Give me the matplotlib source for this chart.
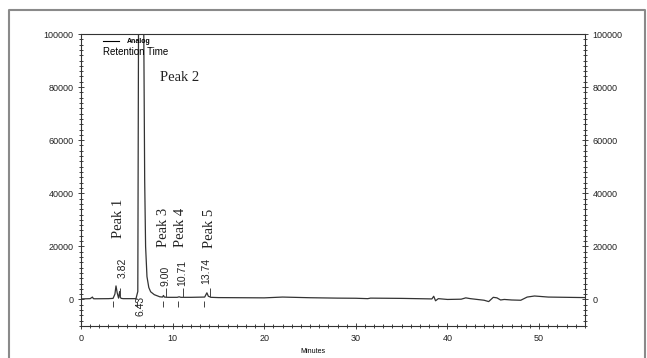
import matplotlib
matplotlib.use("Agg")
import matplotlib.pyplot as plt
from matplotlib.lines import Line2D
from matplotlib.ticker import MultipleLocator

# detector trace (minutes, signal)
time = [0.0, 1.0, 1.25, 1.35, 1.5, 3.0, 3.5, 3.7, 3.82, 3.95, 4.1, 4.22, 4.3, 4.4,
        4.6, 6.0, 6.2, 6.3, 6.43, 6.6, 6.8, 6.95, 7.05, 7.2, 7.4, 7.6, 8.0, 8.6,
        8.9, 9.0, 9.1, 9.5, 10.5, 10.71, 10.9, 12.0, 13.5, 13.74, 13.9, 14.2, 15.0,
        20.0, 22.0, 25.0, 28.0, 30.0, 31.3, 31.6, 35.0, 38.3, 38.5, 38.7, 39.0,
        40.0, 41.5, 42.0, 42.5, 44.0, 44.5, 45.0, 45.4, 45.8, 46.2, 47.0, 48.0,
        48.7, 49.5, 51.0, 55.0]
signal = [200, 300, 900, 300, 250, 300, 400, 2000, 5100, 2500, 500, 3000, 700, 400,
          300, 300, 3000, 130000, 130000, 130000, 130000, 45000, 20000, 8600, 4500,
          2900, 1800, 1000, 900, 1500, 900, 800, 800, 1000, 800, 800, 900, 2500,
          1200, 800, 700, 600, 900, 650, 500, 450, 300, 500, 400, 200, 1200, -500,
          300, 0, 100, 600, 300, -300, -800, 800, 600, -200, 0, -200, -300, 900,
          1300, 900, 700]

# integration marks: start of each peak below the trace, end above it
start_marks = [3.46, 6.09, 8.9, 10.56, 13.4]
end_marks = [4.3, 9.3, 11.08, 14.08]

rt_labels = ["3.82", "6.43", "9.00", "10.71", "13.74"]
rt_x = [4.5, 6.45, 9.26, 11.0, 13.7]
rt_y = [8000, -6300, 5000, 5000, 6000]

peak_names = ["Peak 1", "Peak 3", "Peak 4", "Peak 5"]
peak_x = [4.08, 9.0, 10.9, 14.0]
peak_y = [23000, 19800, 19800, 19400]

fig = plt.figure(figsize=(6.47, 3.58), dpi=100)
ax = fig.add_axes([0.1252, 0.0894, 0.7788, 0.8156])

ax.plot(time, signal, color="#333333", lw=0.9)
ax.vlines(start_marks, -3000, -400, color="#444444", lw=0.7)
ax.vlines(end_marks, 800, 4200, color="#444444", lw=0.7)

for lab, x, y in zip(rt_labels, rt_x, rt_y):
    ax.text(x, y, lab, rotation=90, ha="center", va="bottom", fontsize=7.5,
            family="Liberation Sans", color="#222222")
for lab, x, y in zip(peak_names, peak_x, peak_y):
    ax.text(x, y, lab, rotation=90, ha="center", va="bottom", fontsize=10.5,
            family="Liberation Serif", color="#222222")
ax.text(8.6, 83600, "Peak 2", ha="left", va="center", fontsize=10.5,
        family="Liberation Serif", color="#222222")

# legend block in the top-left corner
ax.add_line(Line2D([2.4, 4.2], [97300, 97300], color="black", lw=0.8))
ax.text(5.0, 97300, "Analog", fontsize=5, fontweight="bold", va="center",
        family="Liberation Sans")
ax.text(2.4, 93300, "Retention Time", fontsize=7, va="center", family="Liberation Sans")

ax.set_xlim(0, 55)
ax.set_ylim(-10000, 100000)
ax.xaxis.set_major_locator(MultipleLocator(10))
ax.xaxis.set_minor_locator(MultipleLocator(1))
ax.yaxis.set_major_locator(MultipleLocator(20000))
ax.yaxis.set_minor_locator(MultipleLocator(2000))
ax.tick_params(which="both", labelsize=6.5, width=0.6, colors="#222222",
               right=True, labelright=True, direction="inout")
ax.tick_params(which="major", length=5)
ax.tick_params(which="minor", length=2.5)
ax.tick_params(axis="y", which="major", pad=3)
for lab in ax.get_xticklabels() + ax.get_yticklabels(which="both"):
    lab.set_family("Liberation Sans")
for s in ax.spines.values():
    s.set_linewidth(0.8)
    s.set_color("#333333")
ax.set_xlabel("Minutes", fontsize=5, family="Liberation Sans", labelpad=1)
ax.xaxis.set_label_coords(0.46, -0.075)

# scanned page frame
frame = Line2D([9 / 647, 9 / 647, 645 / 647, 645 / 647], [0, 1 - 10 / 358, 1 - 10 / 358, 0],
               transform=fig.transFigure, color="#8a8a8a", lw=1.5)
fig.add_artist(frame)

fig.savefig("out.png", dpi=100)
